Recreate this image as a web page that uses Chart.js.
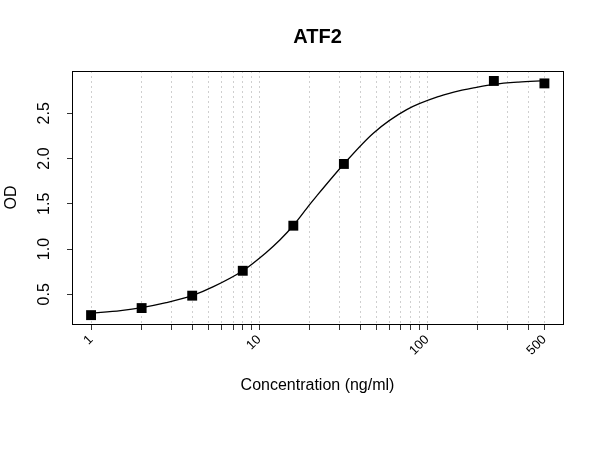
<!DOCTYPE html>
<html>
<head>
<meta charset="utf-8">
<script src="https://cdn.jsdelivr.net/npm/chart.js@4/dist/chart.umd.min.js"></script>
<style>
  html, body { margin: 0; padding: 0; background: #fff; }
  #wrap { width: 600px; height: 450px; }
</style>
</head>
<body>
<div id="wrap"><canvas id="myChart"></canvas></div>
<script>
// standards
const stdConc = [1, 2, 4, 8, 16, 32, 250, 500];
const stdOD = [0.27, 0.348, 0.485, 0.76, 1.258, 1.94, 2.857, 2.83];

// fitted curve at several concentrations
const curveConc = [1, 1.5, 2, 2.8, 4, 5.35, 8, 11, 13.3, 16, 20, 22, 32, 47.9, 75.7, 119.5, 157, 189, 250, 350, 500];
const curveOD = [0.29, 0.32, 0.352, 0.407, 0.485, 0.584, 0.76, 0.96, 1.10, 1.26, 1.49, 1.585, 1.94, 2.28, 2.54, 2.69, 2.75, 2.78, 2.82, 2.845, 2.86];

// axis ticks
const xGridTicks = [1, 2, 3, 4, 5, 6, 7, 8, 9, 10, 20, 30, 40, 50, 60, 70, 80, 90, 100, 200, 300, 400, 500];
const xLabelTicks = [1, 10, 100, 500];
const yTicks = [0.5, 1.0, 1.5, 2.0, 2.5];

Chart.defaults.font.family = 'Arial, "Liberation Sans", sans-serif';
Chart.defaults.color = '#000';

// R-style full box round the plot region
const boxPlugin = {
    id: 'box',
    afterDraw(chart) {
        const a = chart.chartArea;
        const ctx = chart.ctx;
        ctx.save();
        ctx.strokeStyle = '#000';
        ctx.lineWidth = 1;
        ctx.strokeRect(a.left + 0.5, a.top + 0.5, a.right - a.left, a.bottom - a.top);
        ctx.restore();
    }
};

const ctx = document.getElementById('myChart').getContext('2d');
const myChart = new Chart(ctx, {
    type: 'scatter',
    data: {
        datasets: [{
            label: 'fit',
            data: curveConc.map((c, i) => ({x: c, y: curveOD[i]})),
            showLine: true,
            borderColor: '#000',
            borderWidth: 1.3,
            pointRadius: 0,
            cubicInterpolationMode: 'monotone',
            order: 2
        }, {
            label: 'standards',
            data: stdConc.map((c, i) => ({x: c, y: stdOD[i]})),
            pointStyle: 'rect',
            pointRadius: 7,
            backgroundColor: '#000',
            borderColor: '#000',
            borderWidth: 0,
            order: 1
        }]
    },
    options: {
        responsive: true,
        maintainAspectRatio: false,
        animation: false,
        layout: { padding: { left: 0, right: 37, top: 0, bottom: 0 } },
        plugins: {
            legend: { display: false },
            tooltip: { enabled: false },
            title: {
                display: true,
                text: 'ATF2',
                fullSize: false,
                font: { size: 20, weight: 'bold' },
                padding: { top: 25, bottom: 22 }
            }
        },
        scales: {
            x: {
                type: 'logarithmic',
                min: 0.77,
                max: 645,
                afterBuildTicks: s => { s.ticks = xGridTicks.map(v => ({value: v})); },
                afterFit: s => { s.height = 126; },
                ticks: {
                    autoSkip: false,
                    minRotation: 45,
                    maxRotation: 45,
                    padding: 2,
                    font: { size: 13 },
                    callback: v => xLabelTicks.includes(v) ? String(v) : ''
                },
                grid: {
                    color: '#cfcfcf',
                    tickColor: '#333',
                    tickLength: 6,
                    lineWidth: 1
                },
                border: { display: false, dash: [2, 3] },
                title: {
                    display: true,
                    text: 'Concentration (ng/ml)',
                    font: { size: 16 },
                    padding: { top: 0, bottom: 55 }
                }
            },
            y: {
                min: 0.172,
                max: 2.967,
                afterBuildTicks: s => { s.ticks = yTicks.map(v => ({value: v})); },
                afterFit: s => { s.width = 72; },
                ticks: {
                    minRotation: 90,
                    maxRotation: 90,
                    crossAlign: 'center',
                    padding: 11,
                    font: { size: 16 },
                    callback: v => v.toFixed(1)
                },
                grid: {
                    drawOnChartArea: false,
                    tickColor: '#333',
                    tickLength: 5
                },
                border: { display: false },
                title: {
                    display: true,
                    text: 'OD',
                    font: { size: 16 },
                    padding: { top: 2, bottom: 0 }
                }
            }
        }
    },
    plugins: [boxPlugin]
});
</script>
</body>
</html>
